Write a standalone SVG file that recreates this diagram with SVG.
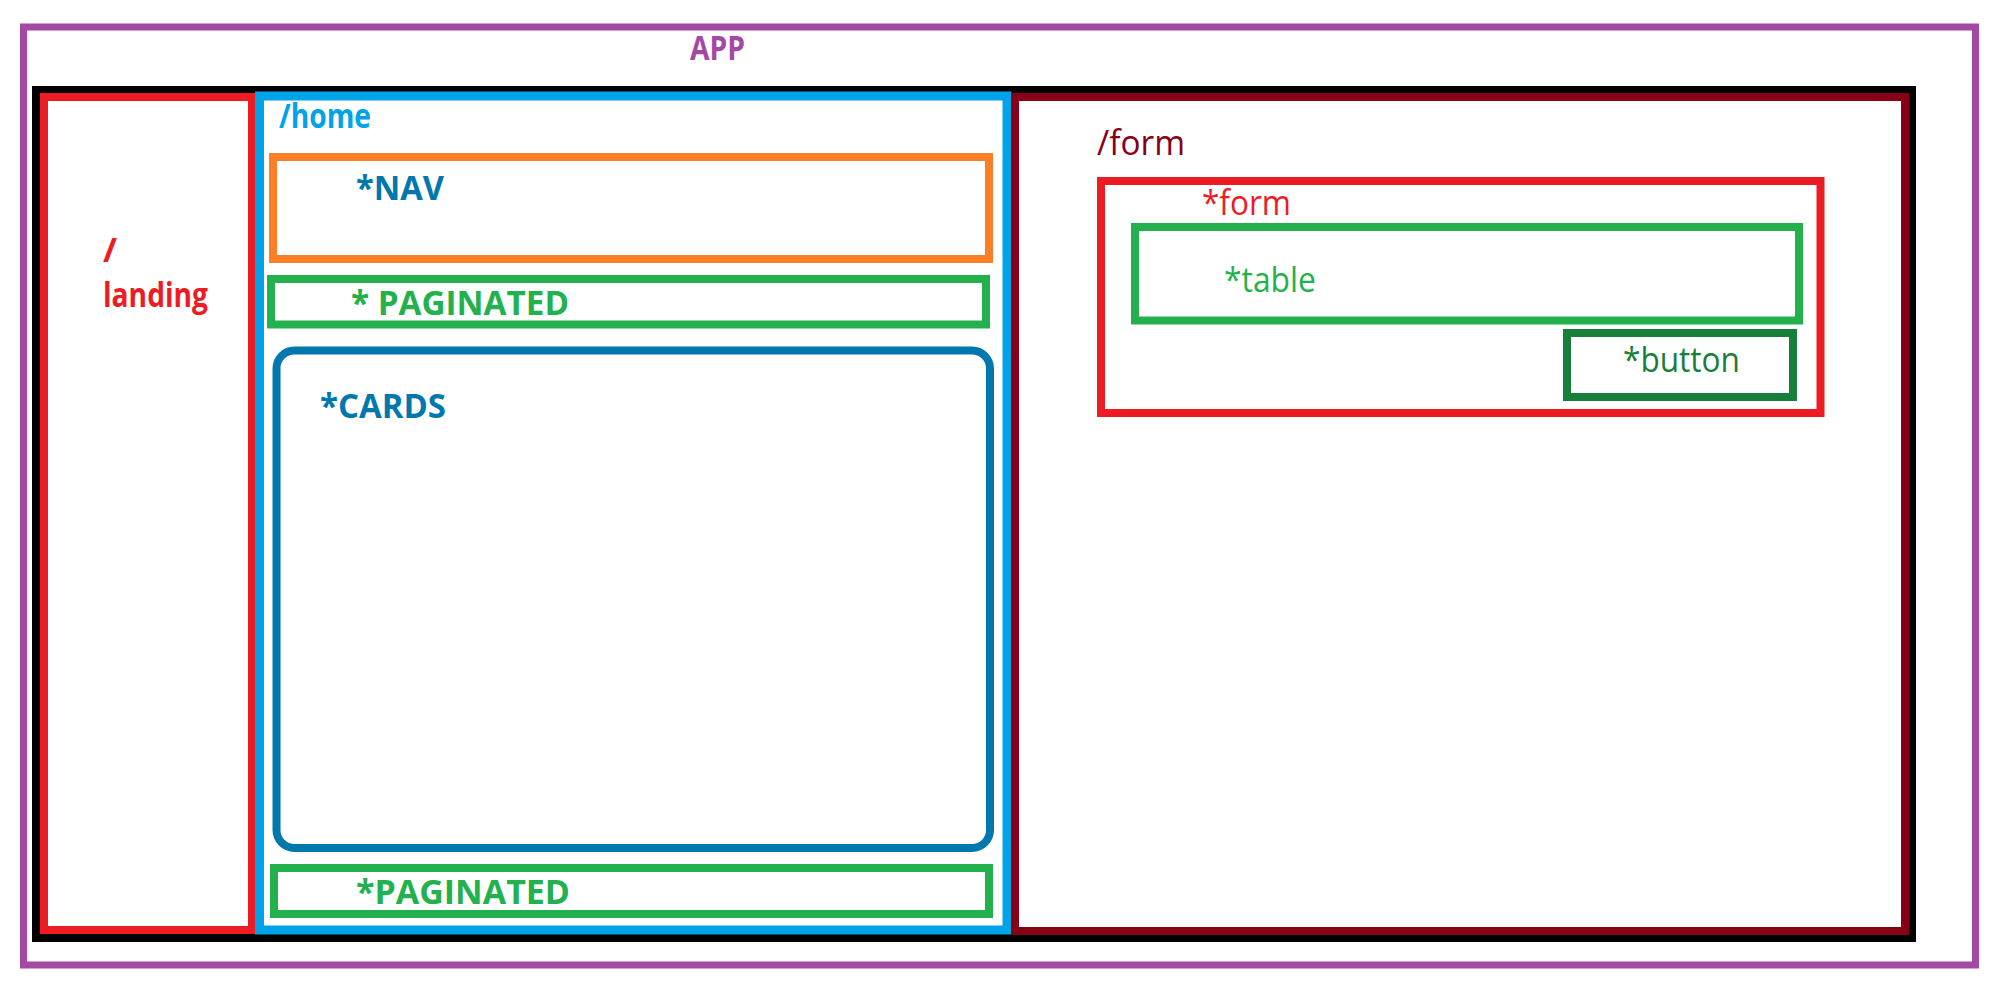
<svg xmlns="http://www.w3.org/2000/svg" width="2002" height="994" viewBox="0 0 2002 994">
<style>
rect{fill:none}
text{font-family:"Open Sans","DejaVu Sans",sans-serif;font-size:34px}
.b{font-weight:bold}
.purple{fill:#A349A4}.blue{fill:#00A2E8}.navy{fill:#0078AE}.green{fill:#22B14C}.red{fill:#ED1C24}.dred{fill:#880015}.dgreen{fill:#177F3A}
</style>
<rect width="2002" height="994" fill="#fff" style="fill:#fff"/>
<g id="app">
<rect x="23.5" y="27" width="1952" height="938" stroke="#A349A4" stroke-width="7"/>
<text class="b purple" x="690" y="60" textLength="55" lengthAdjust="spacingAndGlyphs">APP</text>
</g>
<g id="router">
<rect x="36" y="90" width="1876" height="848" stroke="#000" stroke-width="8"/>
</g>
<g id="landing">
<rect x="44" y="97" width="208" height="833" stroke="#ED1C24" stroke-width="8"/>
<text class="b red" x="103" y="262">/</text>
<text class="b red" x="103" y="307" textLength="105" lengthAdjust="spacingAndGlyphs">landing</text>
</g>
<g id="home">
<rect x="259.5" y="96" width="747.5" height="834" stroke="#00A2E8" stroke-width="9"/>
<text class="b blue" x="279" y="128" textLength="92" lengthAdjust="spacingAndGlyphs">/home</text>
</g>
<g id="nav">
<rect x="273" y="157" width="716" height="102" stroke="#FF7F27" stroke-width="8"/>
<text class="b navy" x="356" y="200" textLength="88" lengthAdjust="spacingAndGlyphs">*NAV</text>
</g>
<g id="paginated-top">
<rect x="271" y="279" width="715" height="45.5" stroke="#22B14C" stroke-width="8"/>
<text class="b green" x="351" y="315" textLength="218" lengthAdjust="spacingAndGlyphs">* PAGINATED</text>
</g>
<g id="cards">
<rect x="276.5" y="350.5" width="713.5" height="497.5" rx="18" stroke="#0078AE" stroke-width="8"/>
<text class="b navy" x="320" y="418" textLength="126" lengthAdjust="spacingAndGlyphs">*CARDS</text>
</g>
<g id="paginated-bottom">
<rect x="274" y="868" width="715" height="46" stroke="#22B14C" stroke-width="8"/>
<text class="b green" x="356" y="904" textLength="214" lengthAdjust="spacingAndGlyphs">*PAGINATED</text>
</g>
<g id="form-route">
<rect x="1015" y="97" width="890" height="834" stroke="#880015" stroke-width="8"/>
<text class="dred" x="1097" y="155" textLength="88" lengthAdjust="spacingAndGlyphs">/form</text>
</g>
<g id="form">
<rect x="1101" y="181" width="719.5" height="232" stroke="#ED1C24" stroke-width="8"/>
<text class="red" x="1202" y="215" textLength="89" lengthAdjust="spacingAndGlyphs">*form</text>
</g>
<g id="table">
<rect x="1135" y="227" width="664" height="93.5" stroke="#22B14C" stroke-width="8"/>
<text class="green" x="1224" y="292" textLength="92" lengthAdjust="spacingAndGlyphs">*table</text>
</g>
<g id="button">
<rect x="1567" y="333" width="226" height="64" stroke="#177F3A" stroke-width="8"/>
<text class="dgreen" x="1623" y="372" textLength="117" lengthAdjust="spacingAndGlyphs">*button</text>
</g>
<g id="connectors"/>
</svg>
